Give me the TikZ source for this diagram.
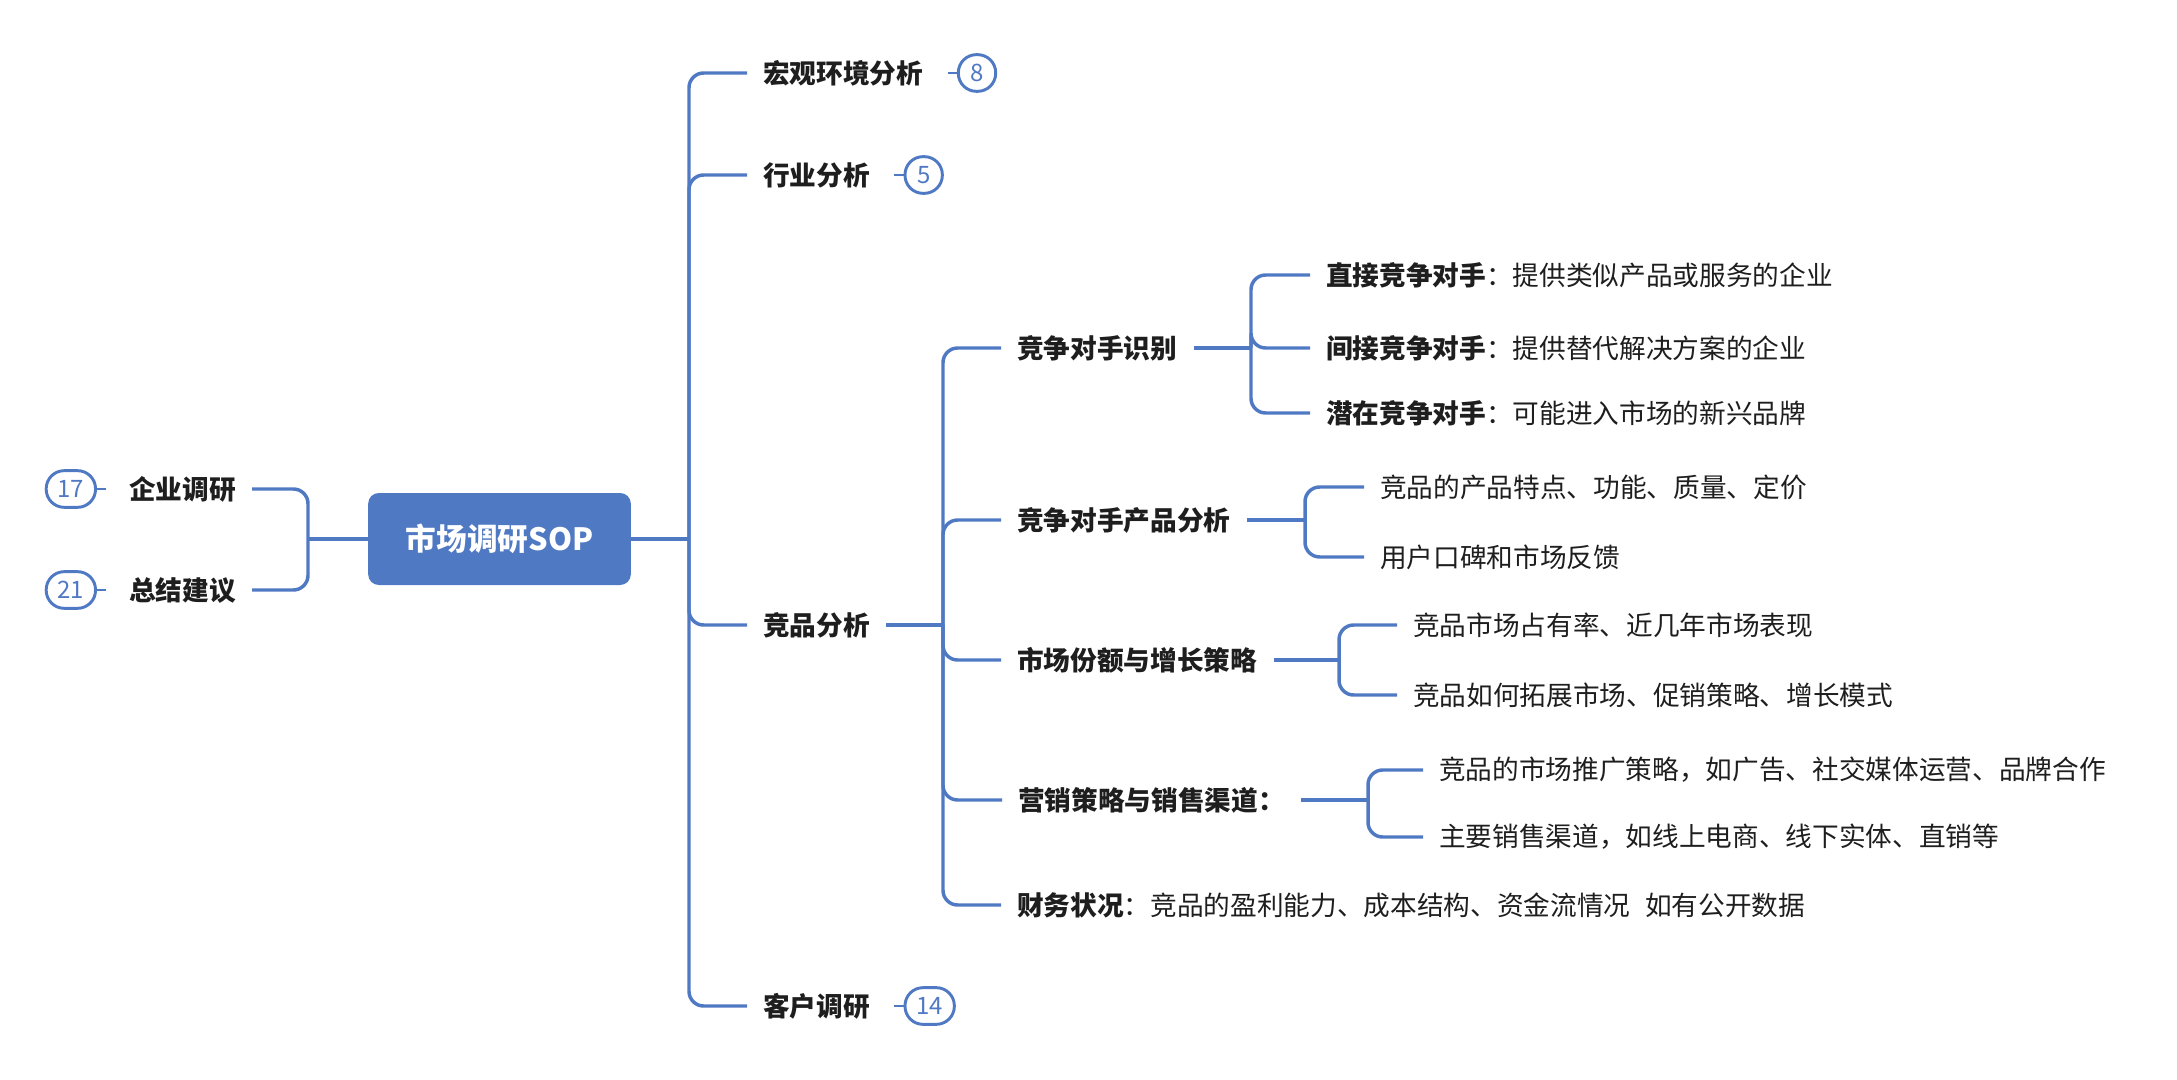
\documentclass[tikz,border=0pt]{standalone}
\usepackage{fontspec}
\setmainfont{Noto Sans CJK SC}
\usetikzlibrary{positioning}
\definecolor{mblue}{RGB}{80,121,196}
\definecolor{txt}{RGB}{30,30,30}
\tikzset{
	branch/.style={draw=mblue, line width=2.6pt, rounded corners=11pt},
	tick/.style={draw=mblue, line width=2.2pt, shorten <=6pt},
	topic/.style={anchor=west, inner xsep=12pt, inner ysep=2pt, text=txt, font=\bfseries\fontsize{20}{24}\selectfont},
	leaf/.style={anchor=west, inner xsep=12pt, inner ysep=2pt, text=txt, font=\fontsize{20}{24}\selectfont},
	badge/.style={draw=mblue, line width=2.2pt, rounded corners=13.5pt, minimum height=27.5pt, minimum width=28pt, inner sep=0pt, text=mblue, font=\fontsize{18}{18}\selectfont},
	rootbox/.style={fill=mblue, rounded corners=8pt, minimum width=197pt, minimum height=69pt, text=white, font=\bfseries\fontsize{23}{27}\selectfont}
}
\begin{document}
\begin{tikzpicture}[x=0.75pt, y=-0.75pt]
	\useasboundingbox (0,0) rectangle (2177,1080);

	% Midtnode
	\node[rootbox] (root) at (499.5,539) {市场调研SOP};

	% Venstre side
	\node[topic] (qiye) at (113,489) {企业调研};
	\node[topic] (zongjie) at (113,590) {总结建议};
	\node[badge, minimum width=37pt, left=12pt of qiye] (b17) {17};
	\node[badge, minimum width=37pt, left=12pt of zongjie] (b21) {21};
	\coordinate (ltrunk) at (308,539);
	\draw[branch] (root.west) -- (ltrunk);
	\draw[branch] (ltrunk) |- (qiye.east);
	\draw[branch] (ltrunk) |- (zongjie.east);
	\draw[tick, shorten <=0pt, shorten >=5pt] (b17.east) -- (qiye.west);
	\draw[tick, shorten <=0pt, shorten >=5pt] (b21.east) -- (zongjie.west);

	% Hoeyre side, foerste nivaa
	\node[topic] (hongguan) at (747,73) {宏观环境分析};
	\node[topic] (hangye) at (747,175) {行业分析};
	\node[topic] (jingpin) at (747,625) {竞品分析};
	\node[topic] (kehu) at (747,1006) {客户调研};
	\node[badge, right=13pt of hongguan] (b8) {8};
	\node[badge, right=13pt of hangye] (b5) {5};
	\node[badge, minimum width=37pt, right=13pt of kehu] (b14) {14};
	\coordinate (trunk) at (689,539);
	\draw[branch] (root.east) -- (trunk);
	\foreach \t in {hongguan, hangye, jingpin, kehu}
		\draw[branch] (trunk) |- (\t.west);
	\draw[tick] (hongguan.east) -- (b8.west);
	\draw[tick] (hangye.east) -- (b5.west);
	\draw[tick] (kehu.east) -- (b14.west);

	% Competitor analysis
	\node[topic] (shibie) at (1001,348) {竞争对手识别};
	\node[topic] (chanpin) at (1001,520) {竞争对手产品分析};
	\node[topic] (fene) at (1001,660) {市场份额与增长策略};
	\node[topic] (yingxiao) at (1002,800) {营销策略与销售渠道：};
	\node[leaf] (caiwu) at (1001,905) {{\bfseries 财务状况}：竞品的盈利能力、成本结构、资金流情况\hspace{0.55em}如有公开数据};
	\coordinate (trunkb) at (943,625);
	\draw[branch] (jingpin.east) -- (trunkb);
	\foreach \t in {shibie, chanpin, fene, yingxiao, caiwu}
		\draw[branch] (trunkb) |- (\t.west);

	% Tredje nivaa
	\node[leaf] (zhijie) at (1310,275) {{\bfseries 直接竞争对手}：提供类似产品或服务的企业};
	\node[leaf] (jianjie) at (1310,348) {{\bfseries 间接竞争对手}：提供替代解决方案的企业};
	\node[leaf] (qianzai) at (1310,413) {{\bfseries 潜在竞争对手}：可能进入市场的新兴品牌};
	\coordinate (ja) at (1251,348);
	\draw[branch] (shibie.east) -- (ja);
	\foreach \t in {zhijie, jianjie, qianzai}
		\draw[branch] (ja) |- (\t.west);

	\node[leaf] (tedian) at (1364,487) {竞品的产品特点、功能、质量、定价};
	\node[leaf] (koubei) at (1364,557) {用户口碑和市场反馈};
	\coordinate (jb) at (1305,520);
	\draw[branch] (chanpin.east) -- (jb);
	\foreach \t in {tedian, koubei}
		\draw[branch] (jb) |- (\t.west);

	\node[leaf] (zhanyou) at (1397,625) {竞品市场占有率、近几年市场表现};
	\node[leaf] (tuozhan) at (1397,695) {竞品如何拓展市场、促销策略、增长模式};
	\coordinate (jc) at (1339,660);
	\draw[branch] (fene.east) -- (jc);
	\foreach \t in {zhanyou, tuozhan}
		\draw[branch] (jc) |- (\t.west);

	\node[leaf] (tuiguang) at (1423,770) {竞品的市场推广策略，如广告、社交媒体运营、品牌合作};
	\node[leaf] (qudao) at (1423,837) {主要销售渠道，如线上电商、线下实体、直销等};
	\coordinate (jd) at (1368,800);
	\draw[branch] (yingxiao.east) -- (jd);
	\foreach \t in {tuiguang, qudao}
		\draw[branch] (jd) |- (\t.west);
\end{tikzpicture}
\end{document}
